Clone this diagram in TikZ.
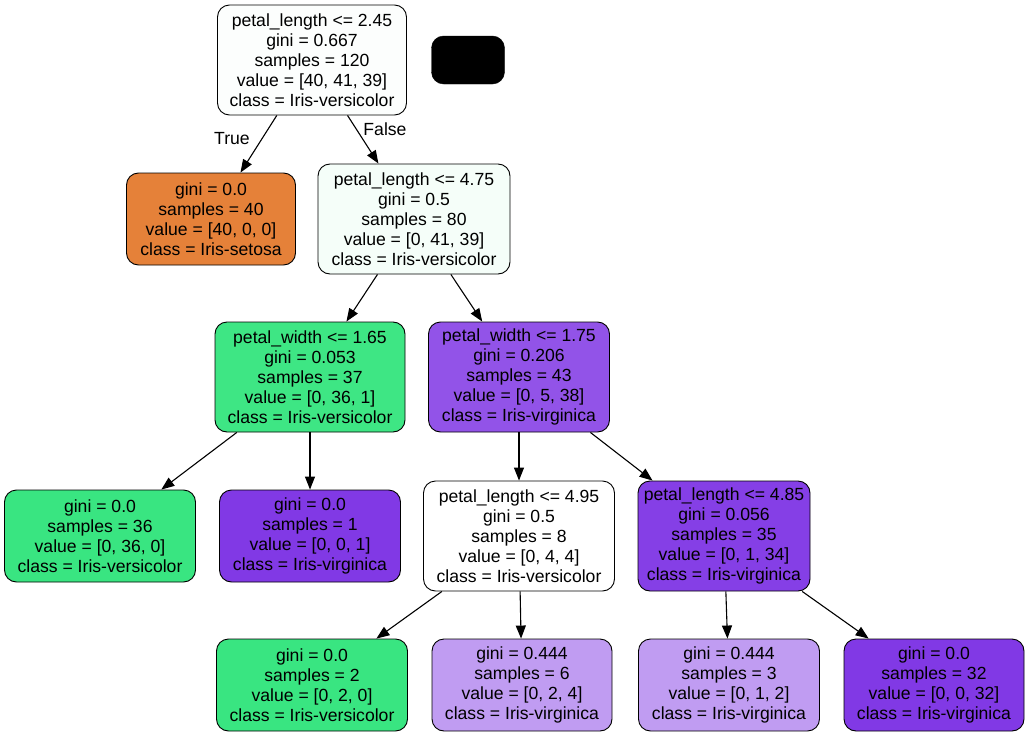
\documentclass[tikz,border=0pt]{standalone}
\usepackage{fontspec}
\setmainfont{Liberation Sans}
\usetikzlibrary{arrows.meta}
\definecolor{cRoot}{HTML}{FCFEFD}
\definecolor{cSet}{HTML}{E58139}
\definecolor{cN2}{HTML}{F5FEF9}
\definecolor{cN3}{HTML}{3EE684}
\definecolor{cVer}{HTML}{39E581}
\definecolor{cN4}{HTML}{9253E8}
\definecolor{cVir}{HTML}{8139E5}
\definecolor{cN8}{HTML}{853FE6}
\definecolor{cLt}{HTML}{C09CF2}
\begin{document}
\begin{tikzpicture}[x=1pt,y=1pt,
  box/.style={draw=black, line width=0.9pt, rounded corners=12pt, align=center,
    inner xsep=3pt, inner ysep=0pt,
    font=\fontsize{17.6}{20}\selectfont},
  split/.style={box, minimum height=110pt},
  leaf/.style={box, minimum height=92pt},
  edge/.style={line width=1.1pt, -{Triangle[length=13pt,width=10pt]}},
  elab/.style={font=\fontsize{17.6}{20}\selectfont, inner sep=0pt}]
\useasboundingbox (0,0) rectangle (1029,-736);
\node[split, fill=cRoot, minimum width=189pt] (n0) at (312,-60) {petal\_length <= 2.45\\gini = 0.667\\samples = 120\\value = [40, 41, 39]\\class = Iris-versicolor};
\node[draw=black, fill=black, rounded corners=12pt, minimum width=73pt, minimum height=48pt, inner sep=0pt] (blk) at (468,-60) {};
\node[leaf, fill=cSet, minimum width=169pt] (n1) at (211,-219) {gini = 0.0\\samples = 40\\value = [40, 0, 0]\\class = Iris-setosa};
\node[split, fill=cN2, minimum width=192pt] (n2) at (414,-219) {petal\_length <= 4.75\\gini = 0.5\\samples = 80\\value = [0, 41, 39]\\class = Iris-versicolor};
\node[split, fill=cN3, minimum width=190pt] (n3) at (310,-377) {petal\_width <= 1.65\\gini = 0.053\\samples = 37\\value = [0, 36, 1]\\class = Iris-versicolor};
\node[split, fill=cN4, minimum width=181pt] (n4) at (519,-377) {petal\_width <= 1.75\\gini = 0.206\\samples = 43\\value = [0, 5, 38]\\class = Iris-virginica};
\node[leaf, fill=cVer, minimum width=191pt] (n5) at (100,-536) {gini = 0.0\\samples = 36\\value = [0, 36, 0]\\class = Iris-versicolor};
\node[leaf, fill=cVir, minimum width=181pt] (n6) at (310,-536) {gini = 0.0\\samples = 1\\value = [0, 0, 1]\\class = Iris-virginica};
\node[split, fill=white, minimum width=191pt] (n7) at (519,-536) {petal\_length <= 4.95\\gini = 0.5\\samples = 8\\value = [0, 4, 4]\\class = Iris-versicolor};
\node[split, fill=cN8, minimum width=172pt] (n8) at (724,-536) {petal\_length <= 4.85\\gini = 0.056\\samples = 35\\value = [0, 1, 34]\\class = Iris-virginica};
\node[leaf, fill=cVer, minimum width=191pt] (n9) at (312,-685) {gini = 0.0\\samples = 2\\value = [0, 2, 0]\\class = Iris-versicolor};
\node[leaf, fill=cLt, minimum width=180pt] (n10) at (522,-685) {gini = 0.444\\samples = 6\\value = [0, 2, 4]\\class = Iris-virginica};
\node[leaf, fill=cLt, minimum width=181pt] (n11) at (729,-685) {gini = 0.444\\samples = 3\\value = [0, 1, 2]\\class = Iris-virginica};
\node[leaf, fill=cVir, minimum width=180pt] (n12) at (934,-685) {gini = 0.0\\samples = 32\\value = [0, 0, 32]\\class = Iris-virginica};
\draw[edge] (n0) -- (n1);
\draw[edge] (n0) -- (n2);
\draw[edge] (n2) -- (n3);
\draw[edge] (n2) -- (n4);
\draw[edge] (n3) -- (n5);
\draw[edge] (n3) -- (n6);
\draw[edge] (n4) -- (n7);
\draw[edge] (n4) -- (n8);
\draw[edge] (n7) -- (n9);
\draw[edge] (n7) -- (n10);
\draw[edge] (n8) -- (n11);
\draw[edge] (n8) -- (n12);
\node[elab] (lt) at (232,-139) {True};
\node[elab] (lf) at (385,-129) {False};
\end{tikzpicture}
\end{document}
